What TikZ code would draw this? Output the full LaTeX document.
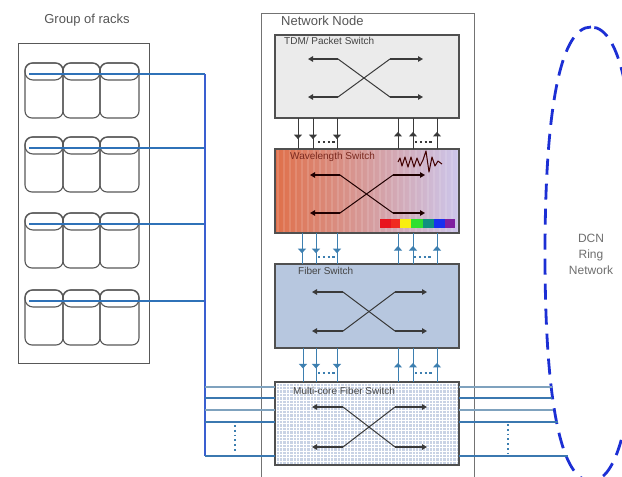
\documentclass[tikz,border=0pt]{standalone}
\usepackage{fontspec}
\setmainfont{Liberation Sans}
\usetikzlibrary{arrows.meta,decorations.markings}
\definecolor{boxline}{HTML}{505050}
\definecolor{rackline}{HTML}{585858}
\definecolor{tdmfill}{HTML}{EBEBEB}
\definecolor{fibfill}{HTML}{B7C7DF}
\definecolor{mcfill}{HTML}{C9D3E5}
\definecolor{rackblue}{HTML}{2F72B8}
\definecolor{busblue}{HTML}{3A5FD0}
\definecolor{connblue}{HTML}{3D7FB0}
\definecolor{lineA}{HTML}{7FA2BE}
\definecolor{lineB}{HTML}{3B78B0}
\definecolor{dcnblue}{HTML}{1C2FD4}
\definecolor{darkconn}{HTML}{3A3A3A}
\definecolor{txtgray}{HTML}{555555}
\definecolor{wlA}{HTML}{E0704A}
\definecolor{wlB}{HTML}{D8A096}
\definecolor{wlC}{HTML}{CCC6EC}
\definecolor{wltext}{HTML}{7A2A20}
\newcommand\swcross[7]{%
  \draw[xarr=#7] (#2,#5) -- (#1,#5);
  \draw[xarr=#7] (#2,#6) -- (#1,#6);
  \draw[xarr=#7] (#3,#5) -- (#4,#5);
  \draw[xarr=#7] (#3,#6) -- (#4,#6);
  \draw[#7, line width=1pt] (#2,#5) -- (#3,#6);
  \draw[#7, line width=1pt] (#2,#6) -- (#3,#5);}
\begin{document}
\begin{tikzpicture}[x=1pt,y=-1pt,
  boxst/.style={minimum width=184pt, inner sep=0pt, anchor=north west, outer sep=0pt},
  border/.style={draw=boxline, line width=1.2pt},
  lbl/.style={font=\fontsize{10}{12}\selectfont, inner sep=0pt, anchor=north west},
  big/.style={font=\fontsize{13}{15}\selectfont, text=txtgray, inner sep=0pt},
  xarr/.style={#1, line width=1.5pt, -{Triangle[length=5pt,width=5.5pt]}},
  mk/.style={postaction={decorate}, decoration={markings, mark=at position #1 with {\arrow{Triangle[length=4.5pt,width=8pt]}}}},
  dk/.style={draw=darkconn, fill=darkconn, line width=1pt},
  bl/.style={draw=connblue, fill=connblue, line width=1pt},
  dotsty/.style={line width=2pt, dash pattern=on 2.2pt off 2.6pt},
  rk/.style={draw=rackline, line width=1.1pt},
  busline/.style={rackblue, line width=1.4pt}]
\useasboundingbox (0,0) rectangle (622,477);
\clip (0,0) rectangle (622,477);

% ---- group of racks
\node[big] (grtitle) at (87,20) {Group of racks};
\node[draw=rackline, line width=1pt, minimum width=131pt, minimum height=320pt, inner sep=0pt, anchor=north west] (rackgrp) at (18,43) {};
\foreach \T [count=\i] in {63,137,213,290} {
  \foreach \xa/\xb in {25/63,63/100,100/139} {
    \draw[rk, rounded corners=7pt] (\xa,\T) rectangle (\xb,\T+55);
    \draw[rk, rounded corners=8pt] (\xa,\T) rectangle (\xb,\T+17);
  }
  \coordinate (r\i) at (29,\T+11);
}
\coordinate (bus) at (205,0);

% ---- network node
\node[draw=boxline!80, line width=1pt, fill=white, minimum width=213pt, minimum height=480pt, inner sep=0pt, anchor=north west] (nn) at (261,13) {};
\node[big, anchor=north west] (nntitle) at (281,16) {Network Node};

% ---- switch boxes
\node[boxst, fill=tdmfill, minimum height=83pt] (tdm) at (275,35) {};
\node[boxst, left color=wlA, middle color=wlB, right color=wlC, minimum height=84pt] (wl) at (275,149) {};
\node[boxst, fill=fibfill, minimum height=84pt] (fib) at (275,264) {};
\node[boxst, fill=mcfill, minimum height=83pt] (mc) at (275,382) {};

% stripes of the wavelength switch
\begin{scope}
  \clip (wl.north west) rectangle (wl.south east);
  \foreach \x in {278,284,...,460} \draw[white, opacity=0.13, line width=1.6pt] (\x,149) -- (\x,233);
\end{scope}
% grid of the multi-core switch
\begin{scope}
  \clip (mc.north west) rectangle (mc.south east);
  \foreach \x in {276,279.4,...,460} \draw[white, line width=1pt] (\x,382) -- (\x,465);
  \foreach \y in {383,386.4,...,466} \draw[white, line width=1pt] (275,\y) -- (459,\y);
\end{scope}

\foreach \b in {tdm,wl,fib,mc} \draw[border] (\b.north west) rectangle (\b.south east);

\node[lbl, text=txtgray!80!black] (tdmlbl) at (284,37.5) {TDM/ Packet Switch};
\node[lbl, text=wltext] (wllbl) at (290,152) {Wavelength Switch};
\node[lbl, text=txtgray!80!black] (fiblbl) at (298,267) {Fiber Switch};
\node[lbl, text=txtgray!80!black] (mclbl) at (293,387.5) {Multi-core Fiber Switch};

% crosses
\swcross{308}{338}{390}{423}{59}{97}{darkconn}
\swcross{310}{340}{393}{425}{175}{213}{black!80!red!60!black}
\swcross{312}{343}{395}{427}{292}{331}{darkconn}
\swcross{312}{343}{395}{427}{407}{447}{darkconn}

% squiggle
\draw[black!75!red, line width=1pt, line join=round] (398,162) -- (400,158) -- (402,166) -- (405,157) -- (408,167) -- (411,157) -- (414,167) -- (417,158) -- (420,166) -- (423,160) -- (426,151) -- (429,172) -- (432,157) -- (435,166) -- (438,161) -- (442,164);
% spectrum
\foreach \xa/\xb/\c in {380/391/E8141E, 391/400/F02A20, 400/411/F8EE10, 411/423/30E030, 423/434/109080, 434/445/1830F0, 445/455/8020A0} {
  \definecolor{specc}{HTML}{\c}
  \fill[specc] (\xa,219) rectangle (\xb,228);
}

% ---- connectors between switches
\foreach \x in {298,313,337} \draw[dk, mk=0.68] (\x,0 |- tdm.south) -- (\x,0 |- wl.north);
\foreach \x in {398,413,437} \draw[dk, mk=0.55] (\x,0 |- wl.north) -- (\x,0 |- tdm.south);
\foreach \x in {302,316,337} \draw[bl, mk=0.65] (\x,0 |- wl.south) -- (\x,0 |- fib.north);
\foreach \x in {398,413,437} \draw[bl, mk=0.58] (\x,0 |- fib.north) -- (\x,0 |- wl.south);
\foreach \x in {303,316,337} \draw[bl, mk=0.6] (\x,0 |- fib.south) -- (\x,0 |- mc.north);
\foreach \x in {398,413,437} \draw[bl, mk=0.56] (\x,0 |- mc.north) -- (\x,0 |- fib.south);
\draw[darkconn, dotsty] (318,142) -- (335,142);
\draw[darkconn, dotsty] (415,142) -- (433,142);
\draw[connblue, dotsty] (318,257) -- (335,257);
\draw[connblue, dotsty] (414,257) -- (432,257);
\draw[connblue, dotsty] (318,373) -- (335,373);
\draw[connblue, dotsty] (415,373) -- (433,373);

% ---- rack links and bus
\foreach \i in {1,...,4} \draw[busline] (r\i) -- (r\i -| bus);
\coordinate (bustop) at (205,74);
\coordinate (busbot) at (205,456);
\draw[busblue, line width=1.3pt] (bustop) -- (busbot);

% ---- DCN ring
\draw[dcnblue, line width=2.8pt, dash pattern=on 16pt off 9pt, dash phase=4pt]
  (591,27) .. controls (561,27) and (545,106) .. (545,254)
  .. controls (545,402) and (561,481) .. (591,481)
  .. controls (621,481) and (637,402) .. (637,254)
  .. controls (637,106) and (621,27) .. (591,27);
\node[font=\fontsize{12}{16}\selectfont, text=txtgray!85, align=center, inner sep=0pt] (dcn) at (591,254) {DCN\\Ring\\Network};

% ---- multi-core links
\foreach \y/\c/\e in {387/lineA/552, 398/lineB/552, 410/lineA/553, 422/lineB/558, 456/lineB/568} {
  \coordinate (e\y) at (\e,\y);
  \draw[\c, line width=1.1pt] (bus |- 0,\y) -- (mc.west |- 0,\y);
  \draw[\c, line width=1.1pt] (mc.east |- 0,\y) -- (e\y);
}
\draw[connblue, dotsty, dash pattern=on 1.8pt off 3pt] (235,425) -- (235,453);
\draw[connblue, dotsty, dash pattern=on 1.8pt off 3pt] (508,424) -- (508,453);
\end{tikzpicture}
\end{document}
